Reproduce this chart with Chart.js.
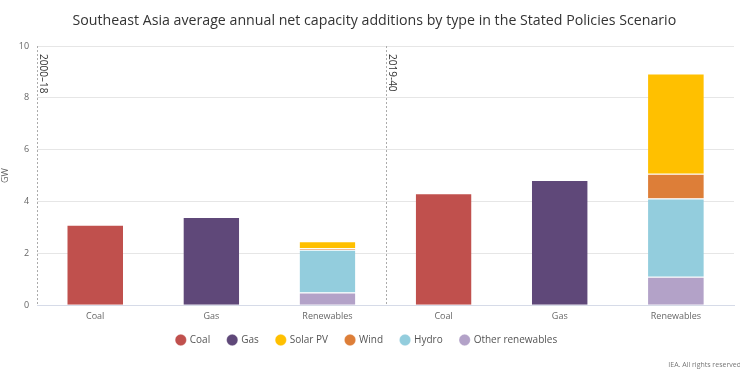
<!DOCTYPE html>
<html><head><meta charset="utf-8">
<script src="https://cdn.jsdelivr.net/npm/chart.js@4/dist/chart.umd.min.js"></script>
<style>html,body{margin:0;padding:0;background:#fff;}#wrap{width:740px;height:371px;position:relative;}</style>
</head><body><div id="wrap"><canvas id="c" width="740" height="371"></canvas></div>
<script>
const categories = ['Coal','Gas','Renewables','Coal','Gas','Renewables'];
const periods = ['2000\u201318','2019-40'];
const coal = [3.1, null, null, 4.32, null, null];
const gas = [null, 3.4, null, null, 4.83, null];
const solarPV = [null, null, 0.27, null, null, 3.87];
const wind = [null, null, 0.06, null, null, 0.95];
const hydro = [null, null, 1.65, null, null, 3.02];
const otherRenewables = [null, null, 0.49, null, null, 1.1];
const yTicks = [0,2,4,6,8,10];

const FONT = '"Open Sans", sans-serif';
const mk = (label, data, color, order) => ({label, data, backgroundColor: color, borderColor:'#fff',
  borderWidth:{top:1,left:0,right:0,bottom:0}, borderSkipped:'bottom', order, stack:'s'});

const LEG_SHIFT = 3;
const overlay = {
  id:'overlay',
  beforeLayout(chart){
    const lg = chart.legend;
    if (lg && !lg._patched){
      const f = lg.fit.bind(lg);
      lg.fit = function(){ f(); this.height -= LEG_SHIFT; };
      lg._patched = true;
    }
  },
  afterLayout(chart){
    const lg = chart.legend;
    if (lg){ lg.top -= LEG_SHIFT; lg.bottom -= LEG_SHIFT; }
  },
  afterDraw(chart){
    const {ctx, chartArea:a, scales:{x}} = chart;
    const mid = (x.getPixelForValue(2)+x.getPixelForValue(3))/2;
    ctx.save();
    ctx.strokeStyle = '#aaa'; ctx.lineWidth = 1; ctx.setLineDash([2,2]);
    [a.left, mid].forEach(px => { ctx.beginPath(); ctx.moveTo(Math.round(px)+0.5, a.top); ctx.lineTo(Math.round(px)+0.5, a.bottom); ctx.stroke(); });
    ctx.setLineDash([]);
    ctx.fillStyle = '#333'; ctx.font = '10px ' + FONT; ctx.textBaseline='middle';
    [a.left, mid].forEach((px,i) => { ctx.save(); ctx.translate(px+6, a.top+8); ctx.rotate(Math.PI/2); ctx.textAlign='left'; ctx.fillText(periods[i],0,0); ctx.restore(); });
    ctx.fillStyle = '#777'; ctx.font = '7px ' + FONT; ctx.textAlign='right'; ctx.textBaseline='alphabetic';
    ctx.fillText('IEA. All rights reserved', 741, 367);
    ctx.restore();
  }
};

new Chart(document.getElementById('c'), {
  type:'bar',
  data:{ labels: categories, datasets:[
    mk('Coal', coal, '#c0504d', 0),
    mk('Gas', gas, '#5f4879', 0),
    mk('Solar PV', solarPV, '#ffc000', 4),
    mk('Wind', wind, '#dd7e38', 3),
    mk('Hydro', hydro, '#93cddd', 2),
    mk('Other renewables', otherRenewables, '#b3a2c8', 1)
  ]},
  options:{
    responsive:false, animation:false,
    layout:{padding:{left:0,right:6,top:0,bottom:16}},
    datasets:{bar:{categoryPercentage:1, barPercentage:0.48}},
    plugins:{
      title:{display:true, text:'    Southeast Asia average annual net capacity additions by type in the Stated Policies Scenario',
        color:'#333', font:{family:FONT, size:14.2, weight:'normal'}, padding:{top:12,bottom:17}},
      legend:{position:'bottom', labels:{usePointStyle:true, pointStyle:'circle', boxWidth:8, boxHeight:8, padding:18,
        color:'#555', font:{family:FONT, size:10}, sort:(a,b)=>a.datasetIndex-b.datasetIndex}},
      tooltip:{enabled:false}
    },
    scales:{
      x:{stacked:true, grid:{display:false}, border:{color:'#d6dbe8'},
        ticks:{color:'#666', font:{family:FONT, size:9}, padding:-2}},
      y:{stacked:true, min:0, max:10, afterBuildTicks: s => { s.ticks = yTicks.map(v=>({value:v})); },
        grid:{color:'#e6e6e6', drawTicks:false}, border:{display:false},
        title:{display:true, text:'GW', color:'#666', font:{family:FONT, size:9}, padding:{top:0,bottom:0}},
        ticks:{color:'#666', font:{family:FONT, size:9}, padding:8}}
    }
  },
  plugins:[overlay]
});
</script></body></html>
